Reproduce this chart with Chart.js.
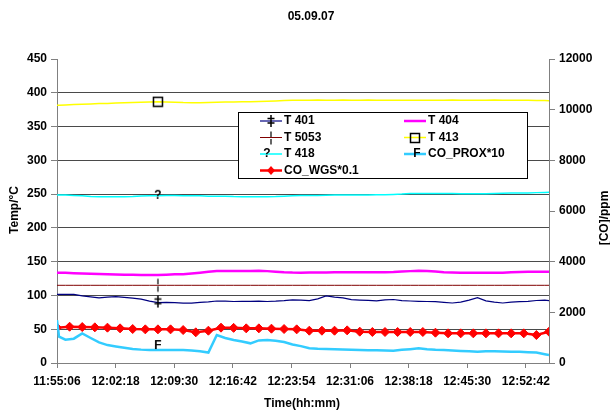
<!DOCTYPE html>
<html><head><meta charset="utf-8">
<script src="https://cdn.jsdelivr.net/npm/chart.js@4.4.0/dist/chart.umd.min.js"></script>
<style>html,body{margin:0;padding:0;background:#fff;}canvas{display:block;}</style>
</head><body>
<canvas id="c" width="610" height="411"></canvas>
<script>
const chartTitle = "05.09.07";
const xTitle = "Time(hh:mm)";
const yLeftTitle = "Temp/°C";
const yRightTitle = "[CO]/ppm";
const tickLabels = ["11:55:06","12:02:18","12:09:30","12:16:42","12:23:54","12:31:06","12:38:18","12:45:30","12:52:42"];
const seriesNames = ["T 401","T 404","T 5053","T 413","T 418","CO_PROX*10","CO_WGS*0.1"];

// seconds since 11:55:06
const timeSec = [0,15,62,124,186,248,310,372,434,496,558,620,682,744,806,868,930,992,1054,1116,1178,1240,1302,1364,1426,1488,1550,1612,1674,1736,1798,1860,1922,1984,2046,2108,2170,2232,2294,2356,2418,2480,2542,2604,2666,2728,2790,2852,2914,2976,3038,3100,3162,3224,3286,3348,3410,3472,3534,3596,3627];
const wgsTime = [0,93,186,279,372,465,558,651,744,837,930,1023,1116,1209,1302,1395,1488,1581,1674,1767,1860,1953,2046,2139,2232,2325,2418,2511,2604,2697,2790,2883,2976,3069,3162,3255,3348,3441,3534,3627];

const t401 = [101.7,101.7, 101.7,101.5,99.5,98,96.5,97.5,98.2,97,96,94.5, 91.5,89.5,89.8,89.5,88.5,88.5,89.8,90.5,91.8,91.5, 91,91.2,91.3,91.5,91,91.5,92.3,93.5,93,92.3, 95,99.2,97.5,96.5,93.8,93.2,92.8,92,93.5,94, 92.3,91.8,91.3,91,90.8,89.8,88.8,90,93,96.7, 92,90,88.8,90.2,90.8,91.3,92.5,93, 92.3];
const t404 = [133.7,133.7, 133.5,133,132.5,132,131.7,131.3,131,130.7,130.5,130.3, 130.3,130.3,130.8,131.2,131.5,132.5,133.7,135,136.2,136.2, 136.2,136.2,136.2,136.5,136,135,134.2,133.8,133.7,133.8, 134,134,134.2,134.2,134.2,134.5,134.5,134.5,134.5,134.8, 135.5,136,136.6,136.2,135.5,134.5,134,133.7,133.7,133.7, 133.7,133.7,133.7,134.3,134.7,135,135.2,135.2, 135.2];
const t5053 = [115,115, 115,115,115,115,115,115,115,115,115,115, 115,115,115,115,115,115,115,115,115,115, 115,115,115,115,115,115,115,115,115,115, 115,115,115,115,115,115,115,115,115,115, 115,115,115,115,115,115,115,115,115,115, 115,115,115,115,115,115,115,115, 115];
const t413 = [381.5,381.5, 382,382.5,383,383.5,384,384.3,384.8,385.2,385.6,386, 386.4,386.7,386.5,386,385.5,385.3,385.3,385.5,385.8,386.2, 386.5,386.7,386.7,387,387.5,388,388.5,389,389,389, 389.2,389,389,389.3,389,389,389.2,389,389,389, 389,388.8,389,389,389,389,389.2,389,389,389, 389,389.3,389,389,388.8,388.8,388.7,388.5, 388.3];
const t418 = [248.7,248.7, 248.5,248,247.5,246.5,246.2,246,246,246,246.3,247.3, 247.5,247.5,247.8,248,247.5,247.5,247.5,247,246.8,247, 246.3,246,246,246,246,246.3,247,247.5,247.8,248, 248,248.3,248.7,248.7,248.7,248.7,248.8,249,249.2,249.5, 250,250.8,251,251,250.9,250.8,250.8,250.5,250.5,250.5, 250.7,251,251.2,251.6,251.6,251.8,252.2,252.5, 252.6];
const coProx = [1696,1040, 920,960,1168,987,813,707,653,600,552,528, 512,512,512,512,512,493,461,413,1104,987, 907,848,776,893,907,880,827,733,667,579, 560,552,547,533,520,512,507,499,493,485, 520,547,579,547,525,512,493,475,459,448, 459,461,453,448,440,427,413,347, 315];
const coWgs = [1395,1432,1419,1408,1395,1368,1341,1328,1328,1328, 1301,1211,1275,1395,1387,1368,1368,1355,1341,1328, 1275,1275,1275,1288,1237,1224,1224,1224,1224,1224, 1197,1171,1171,1171,1171,1171,1171,1171,1104,1237];

const FONT = '"Liberation Sans", Arial, sans-serif';
const markIdx = 13;

function toSec(s){const p=s.split(':').map(Number);return p[0]*3600+p[1]*60+p[2];}
const tickValues = tickLabels.map(l => toSec(l) - toSec(tickLabels[0]));

function glyph(ch, dy){
  const c=document.createElement('canvas');c.width=16;c.height=24;
  const g=c.getContext('2d');g.font='bold 12px '+FONT;g.fillStyle='#000';
  g.textAlign='center';g.textBaseline='middle';g.fillText(ch,8,12+dy);return c;
}
function daggerGlyph(dy){
  const c=document.createElement('canvas');c.width=12;c.height=18;
  const g=c.getContext('2d');g.strokeStyle='#000';g.lineWidth=1.5;
  g.beginPath();
  g.moveTo(6,3+dy);g.lineTo(6,15+dy);
  g.moveTo(2.5,6.5+dy);g.lineTo(9.5,6.5+dy);
  g.moveTo(2.5,11+dy);g.lineTo(9.5,11+dy);
  g.stroke();return c;
}
function barGlyph(){
  const c=document.createElement('canvas');c.width=6;c.height=16;
  const g=c.getContext('2d');g.strokeStyle='#000';g.lineWidth=1.2;
  g.beginPath();g.moveTo(3,1.5);g.lineTo(3,7);g.moveTo(3,9);g.lineTo(3,14.5);g.stroke();return c;
}
function squareGlyph(){
  const c=document.createElement('canvas');c.width=12;c.height=12;
  const g=c.getContext('2d');g.strokeStyle='#000';g.lineWidth=1.5;g.strokeRect(1.5,1.5,9,9);return c;
}
const gT401=daggerGlyph(-1), gT5053=barGlyph(), gT413=squareGlyph(), gT418=glyph('?',0), gProx=glyph('F',-4);
const legendMarks=[daggerGlyph(0),null,gT5053,gT413,glyph('?',0),glyph('F',0),null];
const legendMarkDx=[0,0,0,0,-4,2,0];

function pts(times, vals){return times.map((t,i)=>({x:t,y:vals[i]}));}
function single(g){return {
  pointStyle: ctx => ctx.dataIndex===markIdx ? g : 'circle',
  pointRadius: ctx => ctx.dataIndex===markIdx ? 5 : 0
};}

const datasets = [
  Object.assign({label:seriesNames[0],data:pts(timeSec,t401),yAxisID:'y',borderColor:'#000080',borderWidth:1.2},single(gT401)),
  {label:seriesNames[1],data:pts(timeSec,t404),yAxisID:'y',borderColor:'#ff00ff',borderWidth:2.5,pointRadius:0},
  Object.assign({label:seriesNames[2],data:pts(timeSec,t5053),yAxisID:'y',borderColor:'#800000',borderWidth:1},single(gT5053)),
  Object.assign({label:seriesNames[3],data:pts(timeSec,t413),yAxisID:'y',borderColor:'#ffff00',borderWidth:1.5},single(gT413)),
  Object.assign({label:seriesNames[4],data:pts(timeSec,t418),yAxisID:'y',borderColor:'#00ffff',borderWidth:1.5},single(gT418)),
  Object.assign({label:seriesNames[5],data:pts(timeSec,coProx),yAxisID:'y1',borderColor:'#33ccff',borderWidth:2.5},single(gProx)),
  {label:seriesNames[6],data:pts(wgsTime,coWgs),yAxisID:'y1',borderColor:'#ff0000',borderWidth:2.5,
   pointStyle:'rectRot',pointRadius:4.5,pointBackgroundColor:'#ff0000',pointBorderColor:'#ff0000',pointBorderWidth:1}
];

const textPlugin = {
  id:'texts',
  afterDatasetsDraw(chart){
    const ctx=chart.ctx;
    ctx.save();
    // legend
    const bx=238,by=112,bw=289,bh=66;
    ctx.fillStyle='#fff';ctx.fillRect(bx,by,bw,bh);
    ctx.strokeStyle='#000';ctx.lineWidth=1;ctx.strokeRect(bx+0.5,by+0.5,bw,bh);
    const rows=[121,137.5,154,170.5];
    chart.data.datasets.forEach((ds,i)=>{
      const col=i%2,row=Math.floor(i/2);
      const sx=col?404:260, ex=sx+22, y=rows[row];
      ctx.strokeStyle=ds.borderColor;ctx.lineWidth=ds.borderWidth;
      ctx.beginPath();ctx.moveTo(sx,y);ctx.lineTo(ex,y);ctx.stroke();
      const cx=(sx+ex)/2+legendMarkDx[i];
      const m=legendMarks[i];
      if(m){
        if(i===4||i===5){ctx.fillStyle='#fff';}
        ctx.drawImage(m,Math.round(cx-m.width/2),Math.round(y-m.height/2));
      } else if(i===6){
        ctx.fillStyle='#ff0000';ctx.beginPath();ctx.moveTo(cx,y-4.5);ctx.lineTo(cx+4,y);ctx.lineTo(cx,y+4.5);ctx.lineTo(cx-4,y);ctx.closePath();ctx.fill();
      }
      ctx.fillStyle='#000';ctx.font='bold 12px '+FONT;ctx.textAlign='left';ctx.textBaseline='middle';
      ctx.fillText(ds.label,ex+2,y);
    });
    // titles
    ctx.fillStyle='#000';ctx.textAlign='center';ctx.textBaseline='middle';
    ctx.font='bold 12px '+FONT;
    ctx.fillText(chartTitle,311,17);
    ctx.fillText(xTitle,302,404);
    ctx.save();ctx.translate(15,210);ctx.rotate(-Math.PI/2);ctx.fillText(yLeftTitle,0,0);ctx.restore();
    ctx.save();ctx.translate(605,218);ctx.rotate(-Math.PI/2);ctx.fillText(yRightTitle,0,0);ctx.restore();
    ctx.restore();
  }
};

const tickFont={family:FONT,size:12,weight:'bold'};
new Chart(document.getElementById('c'),{
  type:'line',
  data:{datasets},
  plugins:[textPlugin],
  options:{
    responsive:false,animation:false,events:[],
    layout:{padding:{top:59,left:0,right:0,bottom:0},autoPadding:false},
    elements:{line:{tension:0,fill:false}},
    plugins:{legend:{display:false},title:{display:false},tooltip:{enabled:false}},
    scales:{
      x:{type:'linear',position:'bottom',min:0,max:3627,
        afterBuildTicks:s=>{s.ticks=tickValues.map(v=>({value:v}));},
        afterFit:s=>{s.height=48;},
        ticks:{autoSkip:false,maxRotation:0,minRotation:0,padding:6,color:'#000',font:tickFont,
          callback:v=>{const i=tickValues.indexOf(v);return i>=0?tickLabels[i]:'';}},
        grid:{drawOnChartArea:false,drawTicks:true,tickLength:5,color:'#808080'},
        border:{color:'#808080',width:1}},
      y:{position:'left',min:0,max:450,
        afterFit:s=>{s.width=57;},
        ticks:{stepSize:50,padding:4,color:'#000',font:tickFont,callback:v=>String(v)},
        grid:{color:c=>c.tick&&c.tick.value===450?'rgba(0,0,0,0)':'#4a4a4a',tickColor:'#808080',tickLength:6,lineWidth:1},
        border:{color:'#808080',width:1}},
      y1:{position:'right',min:0,max:12000,
        afterFit:s=>{s.width=61;},
        ticks:{stepSize:2000,padding:4,color:'#000',font:tickFont,callback:v=>String(v)},
        grid:{drawOnChartArea:false,tickLength:6,color:'#808080'},
        border:{color:'#808080',width:1}}
    }
  }
});
</script>
</body></html>
